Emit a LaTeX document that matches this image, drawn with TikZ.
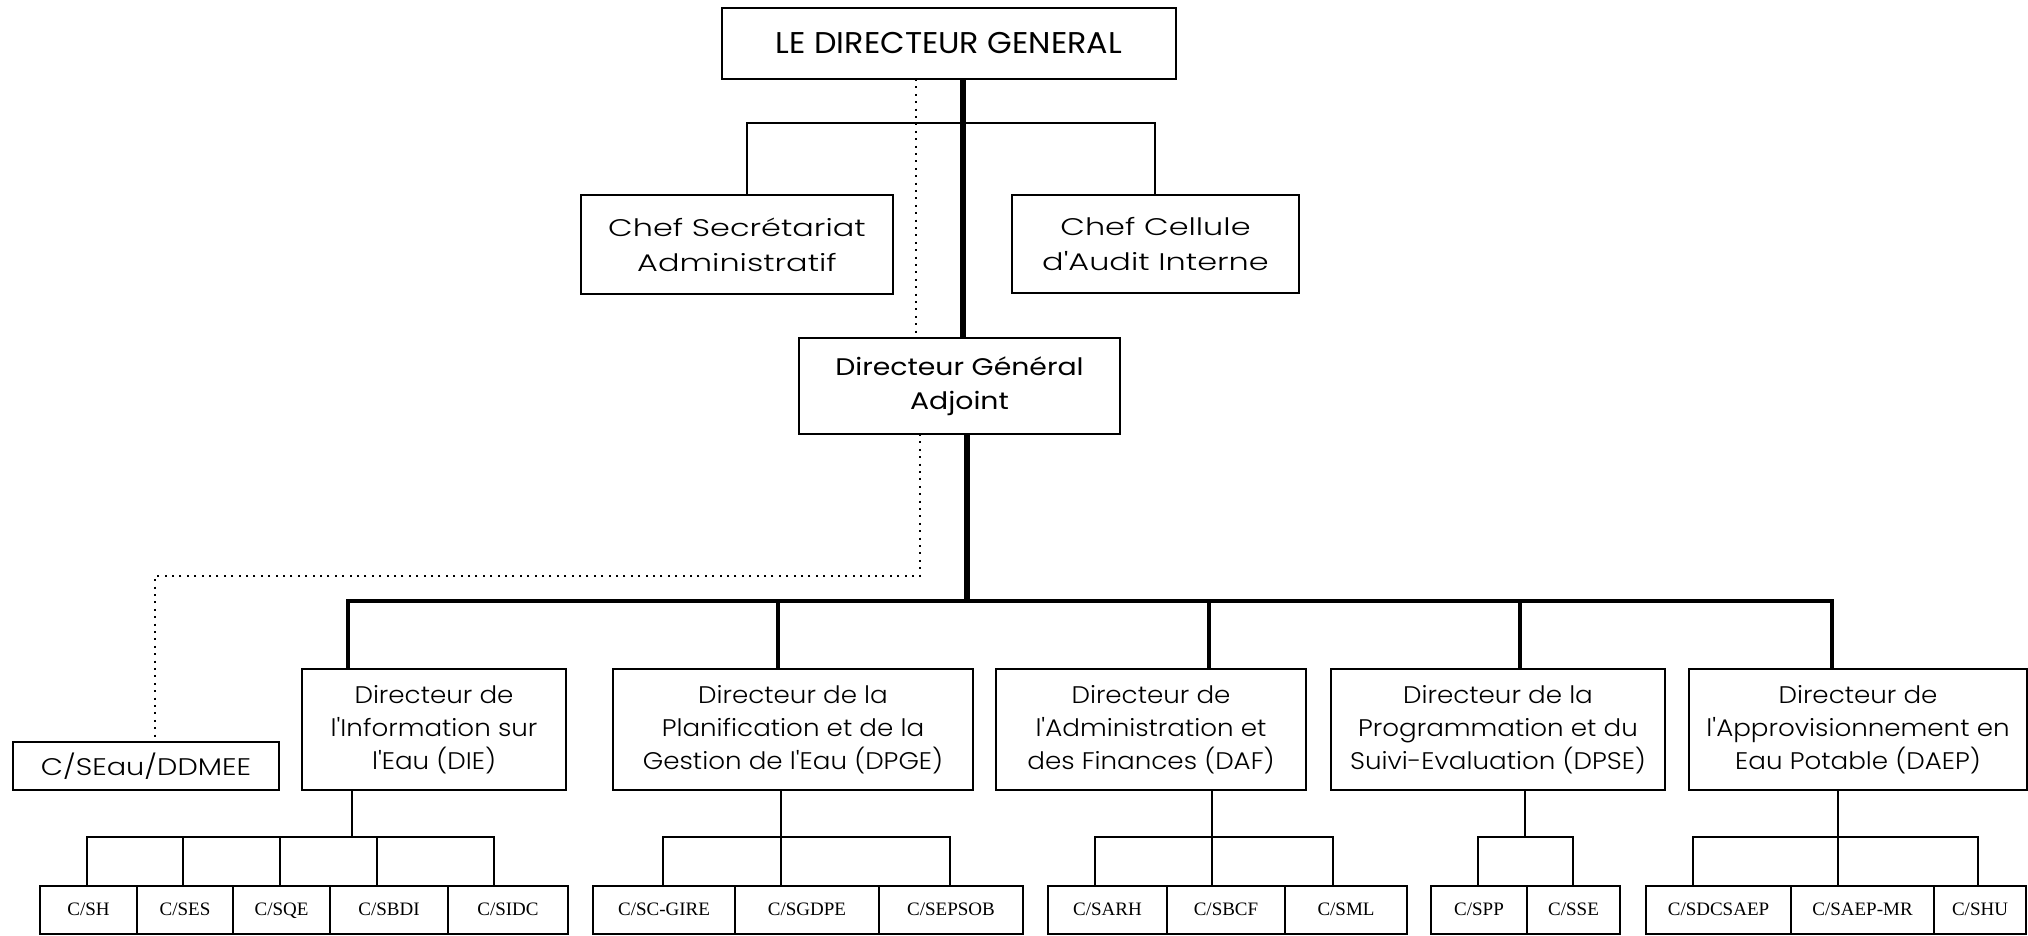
\documentclass[tikz,border=0pt]{standalone}
\usepackage{fontspec}
\setmainfont{Poppins}[UprightFont={* Light}]
\newfontfamily\fdir{Poppins}[UprightFont={* Light},FakeStretch=1.09]
\newfontfamily\fchef{Poppins}[UprightFont={* Light},FakeStretch=1.33]
\newfontfamily\fseau{Poppins}[UprightFont={* Light},FakeStretch=1.2]
\newfontfamily\fdga{Poppins}[FakeStretch=1.18]
\newfontfamily\fdg{Poppins}[FakeStretch=1.06]
\newfontfamily\tms{Liberation Serif}
\newcommand\bx[7][]{\node[#1,minimum width={(#5-#3)*0.5pt},minimum height={(#6-#4)*0.5pt}] (#2) at ({(#3+#5)/2},{(#4+#6)/2}) {#7};}
\begin{document}
\begin{tikzpicture}[x=0.5pt,y=-0.5pt,
  box/.style={draw,line width=0.8pt,inner sep=0pt,outer sep=0pt,align=center,font=\fdir\fontsize{12}{16.5}\selectfont},
  chef/.style={box,font=\fchef\fontsize{12}{17.5}\selectfont},
  sub/.style={draw,line width=0.8pt,inner sep=0pt,outer sep=0pt,text height=14.5pt,text depth=9.5pt,font=\tms\fontsize{9.5}{11}\selectfont},
  thickln/.style={line width=3pt},
  busln/.style={line width=2.4pt,line join=miter},
  thinln/.style={line width=0.7pt},
  dotln/.style={line width=1.1pt,dash pattern=on 1pt off 2.7pt}]
\useasboundingbox (0,0) rectangle (2028,936);
% top level
\bx[box,font=\fdg\fontsize{15}{18}\selectfont]{DG}{722}{8}{1176}{79}{LE DIRECTEUR GENERAL}
\bx[chef]{CSA}{581}{195}{893}{294}{Chef Secrétariat\\Administratif}
\bx[chef]{CCA}{1012}{195}{1299}{293}{Chef Cellule\\d'Audit Interne}
\bx[box,font=\fdga\fontsize{12}{17}\selectfont]{DGA}{799}{338}{1120}{434}{Directeur Général\\Adjoint}
\bx[box,font=\fseau\fontsize{12}{16.5}\selectfont]{SEau}{13}{742}{279}{790}{C/SEau/DDMEE}
% directors
\bx[box]{DIE}{302}{669}{566}{790}{Directeur de\\l'Information sur\\l'Eau (DIE)}
\bx[box]{DPGE}{613}{669}{973}{790}{Directeur de la\\Planification et de la\\Gestion de l'Eau (DPGE)}
\bx[box]{DAF}{996}{669}{1306}{790}{Directeur de\\l'Administration et\\des Finances (DAF)}
\bx[box]{DPSE}{1331}{669}{1665}{790}{Directeur de la\\Programmation et du\\Suivi-Evaluation (DPSE)}
\bx[box]{DAEP}{1689}{669}{2027}{790}{Directeur de\\l'Approvisionnement en\\Eau Potable (DAEP)}
% services
\bx[sub]{s11}{40}{886}{137}{934}{C/SH}
\bx[sub]{s12}{137}{886}{233}{934}{C/SES}
\bx[sub]{s13}{233}{886}{330}{934}{C/SQE}
\bx[sub]{s14}{330}{886}{448}{934}{C/SBDI}
\bx[sub]{s15}{448}{886}{568}{934}{C/SIDC}
\bx[sub]{s21}{593}{886}{735}{934}{C/SC-GIRE}
\bx[sub]{s22}{735}{886}{879}{934}{C/SGDPE}
\bx[sub]{s23}{879}{886}{1023}{934}{C/SEPSOB}
\bx[sub]{s31}{1048}{886}{1167}{934}{C/SARH}
\bx[sub]{s32}{1167}{886}{1285}{934}{C/SBCF}
\bx[sub]{s33}{1285}{886}{1407}{934}{C/SML}
\bx[sub]{s41}{1431}{886}{1527}{934}{C/SPP}
\bx[sub]{s42}{1527}{886}{1620}{934}{C/SSE}
\bx[sub]{s51}{1646}{886}{1791}{934}{C/SDCSAEP}
\bx[sub]{s52}{1791}{886}{1934}{934}{C/SAEP-MR}
\bx[sub]{s53}{1934}{886}{2026}{934}{C/SHU}
% thin bracket under DG
\coordinate (t1) at (747,123);
\coordinate (t2) at (1155,123);
\draw[thinln] (CSA.north -| t1) -- (t1) -- (t2) -- (CCA.north -| t2);
% main thick line
\coordinate (m1) at (963,0);
\coordinate (m2) at (967,0);
\coordinate (bL) at (348,601);
\coordinate (bR) at (1832,601);
\draw[thickln] (DG.south -| m1) -- (DGA.north -| m1);
\draw[thickln] (DGA.south -| m2) -- (m2 |- bL);
\draw[busln] (DIE.north -| bL) -- (bL) -- (bR) -- (DAEP.north -| bR);
\coordinate (b2) at (778,601);
\coordinate (b3) at (1209,601);
\coordinate (b4) at (1520,601);
\draw[busln] (b2) -- (b2 |- DPGE.north);
\draw[busln] (b3) -- (b3 |- DAF.north);
\draw[busln] (b4) -- (b4 |- DPSE.north);
% dotted lines
\coordinate (d1) at (916,0);
\coordinate (d2) at (920,0);
\coordinate (dc) at (155,576);
\draw[dotln] (DG.south -| d1) -- (DGA.north -| d1);
\draw[dotln] (DGA.south -| d2) -- (d2 |- dc) -- (dc) -- (SEau.north -| dc);
% DIE services
\coordinate (k1) at (352,837);
\draw[thinln] (DIE.south -| k1) -- (k1);
\draw[thinln] (s11.north -| 87,0) -- (87,837) -- (494,837) -- (s15.north -| 494,0);
\draw[thinln] (183,837) -- (s12.north -| 183,0);
\draw[thinln] (280,837) -- (s13.north -| 280,0);
\draw[thinln] (377,837) -- (s14.north -| 377,0);
% DPGE services
\coordinate (k2) at (781,837);
\draw[thinln] (DPGE.south -| k2) -- (s22.north -| k2);
\draw[thinln] (s21.north -| 663,0) -- (663,837) -- (950,837) -- (s23.north -| 950,0);
% DAF services
\coordinate (k3) at (1212,837);
\draw[thinln] (DAF.south -| k3) -- (s32.north -| k3);
\draw[thinln] (s31.north -| 1095,0) -- (1095,837) -- (1333,837) -- (s33.north -| 1333,0);
% DPSE services
\coordinate (k4) at (1525,837);
\draw[thinln] (DPSE.south -| k4) -- (k4);
\draw[thinln] (s41.north -| 1478,0) -- (1478,837) -- (1573,837) -- (s42.north -| 1573,0);
% DAEP services
\coordinate (k5) at (1838,837);
\draw[thinln] (DAEP.south -| k5) -- (s52.north -| k5);
\draw[thinln] (s51.north -| 1693,0) -- (1693,837) -- (1978,837) -- (s53.north -| 1978,0);
\end{tikzpicture}
\end{document}
